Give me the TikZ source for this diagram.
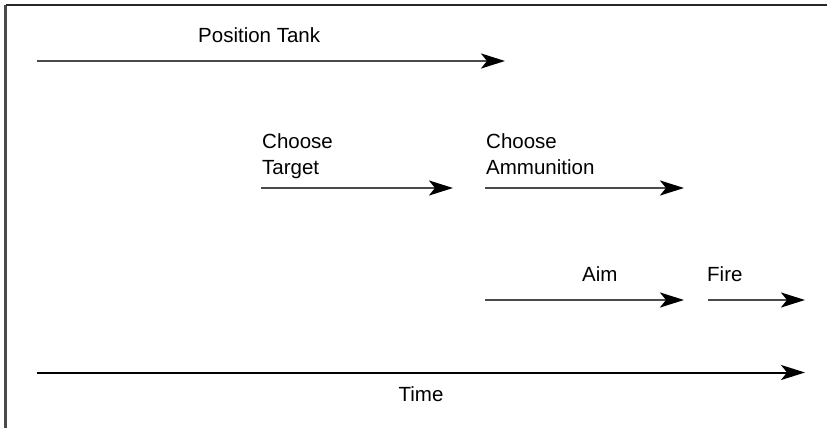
\documentclass[tikz,border=0pt]{standalone}
\usepackage{fontspec}
\setmainfont{Liberation Sans}
\usetikzlibrary{arrows.meta}
\definecolor{linegray}{HTML}{4A4A4A}
\begin{document}
\begin{tikzpicture}[x=1pt,y=-1pt,
  lbl/.style={inner sep=0pt,font=\fontsize{20.5}{25.6}\selectfont},
  task/.style={draw=linegray,line width=2.4pt,-{Stealth[length=24pt,width=15pt,inset=6pt,color=black]}},
  timeline/.style={draw=black,line width=2pt,-{Stealth[length=24pt,width=15pt,inset=6pt]}}]
\useasboundingbox (0,0) rectangle (827,428);
% frame (only left and top edges visible)
\coordinate (fbl) at (5.5,428);
\coordinate (ftl) at (5.5,5.5);
\coordinate (ftr) at (827,5.5);
\draw[draw=linegray,line width=2.4pt] (fbl) -- (ftl);
\draw[draw=black!85,line width=2pt] (ftl) -- (ftr);
% labels
\node[lbl,anchor=base west] (tPos) at (198,43) {Position Tank};
\node[lbl,anchor=north west,align=left] (tTarget) at (262,133.5) {Choose\\Target};
\node[lbl,anchor=north west,align=left] (tAmmo) at (486,133.5) {Choose\\Ammunition};
\node[lbl,anchor=base west] (tAim) at (582,281) {Aim};
\node[lbl,anchor=base west] (tFire) at (707,281) {Fire};
\node[lbl,anchor=base] (tTime) at (421,401) {Time};
% arrow end points
\coordinate (p1) at (37,61);   \coordinate (p2) at (505,61);
\coordinate (c1) at (261,188); \coordinate (c2) at (453,188);
\coordinate (m1) at (485,188); \coordinate (m2) at (684,188);
\coordinate (a1) at (485,300); \coordinate (a2) at (684,300);
\coordinate (f1) at (708,300); \coordinate (f2) at (805,300);
\coordinate (t1) at (37,372.5); \coordinate (t2) at (805,372.5);
% arrows
\draw[task] (p1) -- (p2);
\draw[task] (c1) -- (c2);
\draw[task] (m1) -- (m2);
\draw[task] (a1) -- (a2);
\draw[task] (f1) -- (f2);
\draw[timeline] (t1) -- (t2);
\end{tikzpicture}
\end{document}
